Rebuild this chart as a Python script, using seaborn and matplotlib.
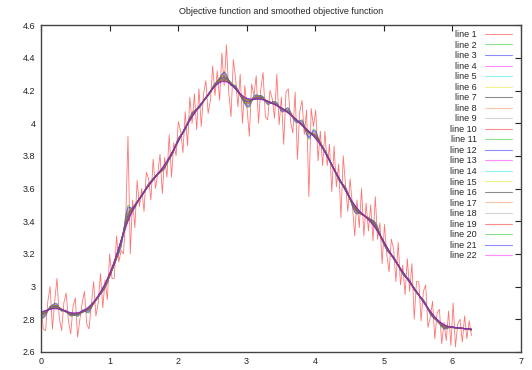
import numpy as np
import pandas as pd
import seaborn as sns
import matplotlib
matplotlib.use("Agg")
import matplotlib.pyplot as plt
from matplotlib.ticker import FuncFormatter, MultipleLocator

# objective function, sampled evenly on [0, 6.28]
x_start, x_end = 0.0, 6.28
objective = [
    2.90, 2.74, 2.73, 2.91, 3.00, 2.74, 2.91, 3.05, 2.81, 2.73,
    2.90, 2.96, 2.79, 2.71, 2.88, 2.93, 2.69, 2.80, 2.90, 2.97,
    2.77, 2.74, 2.89, 3.03, 2.82, 2.90, 3.08, 2.87, 3.04, 2.92,
    3.20, 3.05, 3.05, 3.31, 3.15, 3.22, 3.20, 3.41, 3.92, 3.20,
    3.53, 3.36, 3.65, 3.49, 3.60, 3.46, 3.70, 3.66, 3.53, 3.78,
    3.60, 3.69, 3.81, 3.57, 3.79, 3.67, 3.93, 3.67, 3.88, 3.80,
    4.01, 3.95, 3.82, 4.07, 3.86, 4.16, 4.00, 4.18, 3.96, 4.21,
    3.98, 4.18, 4.26, 4.06, 4.14, 4.35, 4.17, 4.32, 4.14, 4.43,
    4.23, 4.48, 4.19, 4.04, 4.39, 4.27, 4.10, 4.30, 4.00, 4.23,
    4.09, 3.92, 4.24, 4.17, 4.29, 4.00, 4.21, 4.31, 4.04, 4.02,
    4.20, 4.15, 4.03, 4.30, 3.99, 4.16, 3.87, 4.19, 4.21, 4.01,
    3.94, 4.19, 3.78, 4.07, 4.14, 3.93, 4.08, 3.55, 4.09, 3.98,
    4.08, 3.77, 3.95, 3.74, 3.95, 3.74, 3.87, 3.58, 3.86, 3.61,
    3.75, 3.42, 3.80, 3.62, 3.46, 3.66, 3.50, 3.31, 3.53, 3.36,
    3.60, 3.31, 3.51, 3.34, 3.50, 3.28, 3.55, 3.29, 3.39, 3.14,
    3.38, 3.20, 3.09, 3.29, 3.23, 3.03, 3.27, 3.01, 3.13, 2.95,
    3.17, 2.97, 3.14, 2.80, 3.03, 3.03, 2.79, 2.97, 3.01, 2.75,
    2.81, 2.91, 2.68, 2.84, 2.86, 2.65, 2.78, 2.67, 2.85, 2.64,
    2.90, 2.63, 2.77, 2.80, 2.66, 2.82, 2.68, 2.79, 2.70,
]
# smoothing widths for line 2 .. line 22
widths = [0.045, 0.049, 0.053, 0.058, 0.062, 0.066, 0.070, 0.075, 0.079, 0.083,
          0.087, 0.092, 0.096, 0.100, 0.104, 0.109, 0.113, 0.117, 0.121, 0.126,
          0.130]
labels = [f"line {i}" for i in range(1, 23)]

# gnuplot default line colours, cycling
gp_colors = ['#ff0000', '#00c000', '#0000ff', '#ff00ff', '#00e0e0',
             '#e0e000', '#000000', '#ff7f40', '#a0a0a0']


def smooth(x, y, s):
    w = np.exp(-0.5 * ((x[:, None] - x[None, :]) / s) ** 2)
    return (w @ y) / w.sum(axis=1)


x = np.linspace(x_start, x_end, len(objective))
y = np.array(objective)
curves = [y] + [smooth(x, y, s) for s in widths]

sns.set_theme(style="white")
plt.rcParams['font.family'] = ['Liberation Sans', 'DejaVu Sans']

fig = plt.figure(figsize=(5.32, 3.70), dpi=100)
ax = fig.add_axes([0.077, 0.049, 0.902, 0.883])

for i, c in enumerate(curves):
    col = gp_colors[i % len(gp_colors)]
    if i == 0:
        sns.lineplot(x=x, y=c, ax=ax, color=col, lw=0.6, alpha=0.55, label=labels[i])
    else:
        sns.lineplot(x=x, y=c, ax=ax, color=col, lw=0.8, alpha=0.45, label=labels[i])

ax.set_xlim(0, 7)
ax.set_ylim(2.6, 4.6)
ax.xaxis.set_major_locator(MultipleLocator(1))
ax.yaxis.set_major_locator(MultipleLocator(0.2))
ax.yaxis.set_major_formatter(FuncFormatter(lambda v, p: f"{v:g}"))
ax.set_xlabel("")
ax.set_ylabel("")
ax.tick_params(direction='in', length=4, width=0.8, top=True, right=True,
               labelsize=6.5, pad=4, colors='#222222')
for sp in ax.spines.values():
    sp.set_color('#444444')
    sp.set_linewidth(1.0)

ax.set_title("Objective function and smoothed objective function", fontsize=6.5, pad=8)

leg = ax.legend(loc='upper right', bbox_to_anchor=(0.981, 0.985), frameon=False,
                markerfirst=False, fontsize=6.5, handlelength=3.0, handletextpad=0.9,
                labelspacing=0.17, borderaxespad=0, borderpad=0)

fig.savefig("out.png", dpi=100)
